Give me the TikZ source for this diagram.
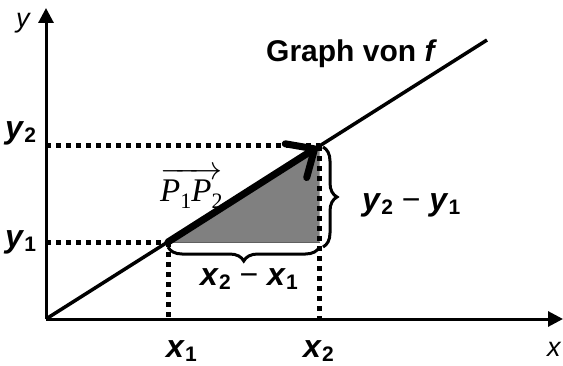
\RequirePackage{fix-cm}
\documentclass[tikz,border=0pt]{standalone}
\usepackage{amsmath}
\usepackage{fontspec}
\setmainfont{Liberation Sans}
\newfontfamily\serifP{Liberation Serif}
\usepackage{xcolor}
\definecolor{tri}{RGB}{128,128,128}
\definecolor{triedge}{RGB}{96,96,96}
\usepackage{tikz}
\usetikzlibrary{arrows.meta,decorations.pathreplacing,calc}
\newcommand{\ivar}[2]{\textbf{\textit{#1}}\raisebox{-4pt}{\fontsize{21}{21}\selectfont\bfseries #2}}
\newcommand{\psub}[1]{\raisebox{-7pt}{\fontsize{22}{22}\selectfont #1}}

\begin{document}
\begin{tikzpicture}[x=1pt, y=1pt,
  axis/.style={line width=3pt, -{Triangle[length=15pt, width=15pt]}},
  graphline/.style={line width=3.5pt},
  vecarr/.style={line width=7pt, line cap=round, -{Straight Barb[length=22pt, width=40pt, round]}},
  dots/.style={line width=5pt, dash pattern=on 5pt off 5pt},
  brc/.style={line width=3pt, decorate, decoration={brace, amplitude=14pt}},
  vlab/.style={font=\fontsize{32}{32}\selectfont, anchor=base west, inner sep=0pt},
  alab/.style={font=\itshape\fontsize{27}{27}\selectfont, anchor=base west, inner sep=0pt}]
\useasboundingbox (0,0) rectangle (563,365);
% points
\coordinate (O) at (46,46);
\coordinate (P1) at (168,123);
\coordinate (P2) at (319.5,219);
\coordinate (Q) at (P2 |- P1);
\coordinate (fend) at (487,325);
\coordinate (xend) at (563,46);
\coordinate (yend) at (46,357);
% triangle
\fill[tri] (P1) -- (P2) -- (Q) -- cycle;
\draw[triedge, line width=1pt] (P1) -- (Q);
% dotted helper lines
\draw[dots] (O |- P2) -- (P2);
\draw[dots] (O |- P1) -- (P1);
\draw[dots] (P1) -- (P1 |- O);
\draw[dots] (P2) -- (P2 |- O);
% graph and vector
\draw[graphline] (O) -- (fend);
\draw[vecarr] (P1) -- ($(P2)+(-2,-1)$);
% axes
\draw[axis] (O) -- (xend);
\draw[axis] (O) -- (yend);
% braces
\draw[brc] ($(P2)+(3.5,-1)$) -- ($(Q)+(3.5,-5)$);
\draw[brc] ($(Q)+(0,-5)$) -- ($(P1)+(0,-5)$);
% labels
\node[alab] (xl) at (547,9) {x};
\node[alab] (yl) at (16,337) {y};
\node[vlab] (x1l) at (166,8) {\ivar{x}{1}};
\node[vlab] (x2l) at (303,8) {\ivar{x}{2}};
\node[vlab] (y1l) at (5,118) {\ivar{y}{1}};
\node[vlab] (y2l) at (5,226) {\ivar{y}{2}};
\node[vlab] (dx) at (200,80) {\ivar{x}{2} − \ivar{x}{1}};
\node[vlab] (dy) at (362,155) {\ivar{y}{2} − \ivar{y}{1}};
\node[font=\bfseries\fontsize{30}{30}\selectfont, anchor=base west, inner sep=0pt] (graph) at (266,303) {Graph von \textit{f}};
\node[font=\serifP\fontsize{33}{33}\selectfont, anchor=base west, inner sep=0pt] (vec) at (160,164)
  {$\overrightarrow{\hbox{\textit{P}\psub{1}\textit{P}\psub{2}}}$};
\end{tikzpicture}
\end{document}
